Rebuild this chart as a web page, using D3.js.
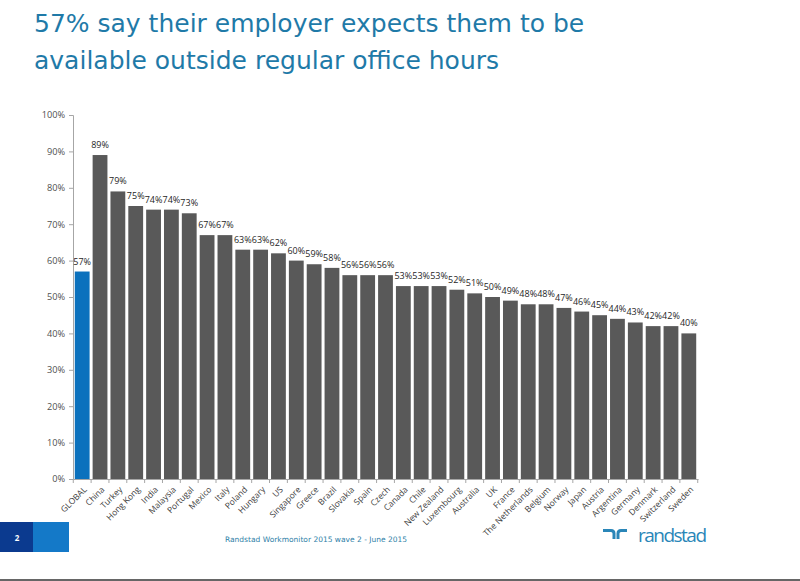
<!DOCTYPE html>
<html>
<head>
<meta charset="utf-8">
<script src="https://cdn.jsdelivr.net/npm/d3@7"></script>
<style>
  body { margin: 0; background: #fff; }
  svg { display: block; }
</style>
</head>
<body>
<div id="chart"></div>
<script>
// countries, in the order shown
var countries = ["GLOBAL", "China", "Turkey", "Hong Kong", "India", "Malaysia", "Portugal", "Mexico", "Italy", "Poland",
  "Hungary", "US", "Singapore", "Greece", "Brazil", "Slovakia", "Spain", "Czech", "Canada", "Chile",
  "New Zealand", "Luxembourg", "Australia", "UK", "France", "The Netherlands", "Belgium", "Norway", "Japan", "Austria",
  "Argentina", "Germany", "Denmark", "Switzerland", "Sweden"]
// share that says their employer expects them to be available (%)
var values = [57, 89, 79, 75, 74, 74, 73, 67, 67, 63,
  63, 62, 60, 59, 58, 56, 56, 56, 53, 53,
  53, 52, 51, 50, 49, 48, 48, 47, 46, 45,
  44, 43, 42, 42, 40]
var yTicks = [0, 10, 20, 30, 40, 50, 60, 70, 80, 90, 100]

var W = 800, H = 581
var margin = {top: 115, left: 73, right: 102, bottom: 102}
var width = W - margin.left - margin.right,
    height = H - margin.top - margin.bottom

var svg = d3.select("#chart").append("svg")
    .attr("width", W)
    .attr("height", H)

// title
var title = svg.append("text")
    .style("font-family", "'DejaVu Sans', Verdana, sans-serif")
    .style("font-size", "25px")
    .style("fill", "#1f7aa8")
title.append("tspan").attr("x", 34).attr("y", 32).text("57% say their employer expects them to be")
title.append("tspan").attr("x", 34).attr("y", 69).text("available outside regular office hours")

var g = svg.append("g")
    .attr("transform", "translate(" + margin.left + "," + margin.top + ")")

var x = d3.scaleBand()
    .domain(countries)
    .range([0, width])
    .paddingInner(0.17)
    .paddingOuter(0.1)

var y = d3.scaleLinear()
    .domain([0, 100])
    .range([height, 0])

// y axis
var yAxis = g.append("g")
    .call(d3.axisLeft(y).tickValues(yTicks).tickSize(4).tickPadding(4).tickFormat(function(d){ return d + "%" }))
yAxis.select(".domain").attr("stroke", "#a6a6a6")
yAxis.selectAll(".tick line").attr("stroke", "#a6a6a6")
yAxis.selectAll("text")
    .style("font-family", "'Open Sans', sans-serif")
    .style("font-size", "9.2px")
    .style("fill", "#505050")

// bars
g.append("g").selectAll("rect")
    .data(values)
  .enter().append("rect")
    .attr("x", function(d, i){ return x(countries[i]) })
    .attr("y", function(d){ return y(d) })
    .attr("width", x.bandwidth())
    .attr("height", function(d){ return height - y(d) })
    .style("fill", function(d, i){ return i == 0 ? "#0b71bd" : "#595959" })

// value labels
g.append("g").selectAll("text")
    .data(values)
  .enter().append("text")
    .attr("x", function(d, i){ return x(countries[i]) + x.bandwidth() / 2 })
    .attr("y", function(d){ return y(d) - 7 })
    .attr("text-anchor", "middle")
    .style("font-family", "'Open Sans', sans-serif")
    .style("font-size", "9px")
    .style("fill", "#262626")
    .text(function(d){ return Math.round(d) + "%" })

// x axis
var xAxis = g.append("g")
    .attr("transform", "translate(0," + height + ")")
    .call(d3.axisBottom(x).tickSize(0))
xAxis.select(".domain").attr("stroke", "#a6a6a6")
xAxis.selectAll("text")
    .attr("text-anchor", "end")
    .attr("x", 0)
    .attr("y", 0)
    .attr("dy", "0.35em")
    .attr("transform", "translate(3,9) rotate(-45)")
    .style("font-family", "'Open Sans', sans-serif")
    .style("font-size", "8.5px")
    .style("fill", "#404040")

// small ticks between the categories
var step = x.step()
var bounds = countries.map(function(c){ return x(c) - (step - x.bandwidth()) / 2 })
bounds.push(x(countries[countries.length - 1]) + x.bandwidth() + (step - x.bandwidth()) / 2)
xAxis.append("g").selectAll("line")
    .data(bounds)
  .enter().append("line")
    .attr("x1", function(d){ return d })
    .attr("x2", function(d){ return d })
    .attr("y1", 0)
    .attr("y2", 4)
    .attr("stroke", "#a6a6a6")

// footer
svg.append("rect").attr("x", 0).attr("y", 522).attr("width", 33).attr("height", 30).style("fill", "#0b3a8f")
svg.append("rect").attr("x", 33).attr("y", 522).attr("width", 36).attr("height", 30).style("fill", "#1479c8")
svg.append("text").attr("x", 17).attr("y", 541).attr("text-anchor", "middle")
    .style("font-family", "'Open Sans', sans-serif").style("font-size", "8px").style("font-weight", "bold")
    .style("fill", "#fff").text("2")
svg.append("text").attr("x", 316).attr("y", 542).attr("text-anchor", "middle")
    .style("font-family", "'DejaVu Sans', sans-serif").style("font-size", "7.5px")
    .style("fill", "#2f7fa8").text("Randstad Workmonitor 2015 wave 2  - June 2015")

// randstad logo
var logo = svg.append("g").attr("transform", "translate(603,529)")
logo.append("path").attr("d", "M0,1.5 L8,1.5 Q11,1.5 11,4.5 L11,10").attr("fill", "none").attr("stroke", "#2a86b8").attr("stroke-width", 3)
logo.append("path").attr("d", "M15,10 L15,4.5 Q15,1.5 18,1.5 L24,1.5").attr("fill", "none").attr("stroke", "#2a86b8").attr("stroke-width", 3)
svg.append("text").attr("x", 638).attr("y", 542)
    .attr("textLength", 69)
    .style("font-family", "'Open Sans', sans-serif").style("font-size", "19px")
    .style("fill", "#2a86b8").text("randstad")

// bottom rule
svg.append("line").attr("x1", 0).attr("x2", W).attr("y1", 580).attr("y2", 580)
    .attr("stroke", "#666").attr("stroke-width", 2)
</script>
</body>
</html>
